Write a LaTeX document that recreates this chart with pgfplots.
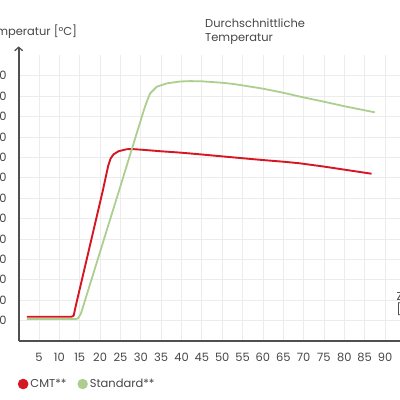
\documentclass[border=0pt]{standalone}
\usepackage{pgfplots}
\pgfplotsset{compat=1.18}
\usepackage{fontspec}
\setmainfont{Poppins}
\usetikzlibrary{arrows.meta}
\definecolor{cmtred}{RGB}{214,22,34}
\definecolor{stdgreen}{RGB}{172,206,142}
\definecolor{gridgray}{RGB}{236,236,236}
\definecolor{axgray}{RGB}{80,80,80}
\definecolor{txtgray}{RGB}{70,70,70}
\begin{document}
\begin{tikzpicture}
\useasboundingbox (0bp,0bp) rectangle (400bp,400bp);
\begin{axis}[
  at={(18.7bp,59bp)}, anchor=south west,
  x=4.07bp, y=0.204bp,
  xmin=0, xmax=96, ymin=0, ymax=1400,
  axis lines=left,
  axis line style={draw=axgray, line width=1.7bp, -{Straight Barb[length=3.5bp,width=8bp,line width=1.3bp]}, shorten >=-9bp},
  xtick={5,10,...,90}, ytick={100,200,...,1300},
  extra x ticks={95}, extra x tick labels={},
  grid=major,
  major grid style={draw=gridgray, line width=0.8bp},
  major tick length=0pt,
  ticklabel style={font=\fontsize{11.5}{13}\selectfont, text=txtgray},
  /pgf/number format/assume math mode=true,
  /pgf/number format/1000 sep={},
  xticklabel style={yshift=-8.5bp},
  yticklabel style={xshift=-8.5bp},
  every axis y label/.style={at={(axis description cs:0,1)}, anchor=east, inner sep=0pt, xshift=58.5bp, yshift=23.5bp, font=\fontsize{11.5}{13}\selectfont, text=txtgray},
  ylabel={Temperatur [°C]},
  title style={at={(axis description cs:0.4767,1)}, anchor=west, inner sep=0pt, yshift=17.4bp, align=left, font=\fontsize{11.5}{14}\selectfont, text=txtgray},
  title={Durchschnittliche\\Temperatur},
  legend style={at={(axis description cs:-0.002,-0.1506)}, anchor=west, draw=none, fill=none, inner sep=0pt, outer sep=0pt, legend columns=2, font=\fontsize{11.5}{13}\selectfont, text=txtgray, /tikz/every even column/.append style={column sep=9bp}},
  legend cell align=left,
  legend image code/.code={\fill[#1] (4bp,0bp) circle (4.3bp);},
]
\addplot[color=cmtred, line width=1.9bp, line join=round] coordinates {
(2,119) (13.0,119) (13.5,124) (14.0,170) (20.7,740) (22.0,860) (22.6,895)
(23.3,915) (24.5,930) (26.5,940) (27.8,941) (30,938) (35,930)
(40,923) (44.6,915) (50,905) (55,896) (60,887) (65,879) (69.1,871)
(75,855) (80,840) (86.7,820)
};
\addlegendentry{CMT**}
\addplot[color=stdgreen, line width=1.8bp, line join=round] coordinates {
(2,108) (14.0,108) (14.6,111) (15.3,135) (24.7,740) (30.8,1135) (31.5,1175)
(32.3,1214) (33.9,1246) (36.4,1263) (39.6,1272) (42.1,1274) (45,1273)
(50,1266) (52.7,1260) (55,1253) (60,1237) (65,1217) (69.1,1198)
(75,1173) (80,1151) (87.5,1121)
};
\addlegendentry{Standard**}
\end{axis}
\node[anchor=west, align=left, inner sep=0pt, font=\fontsize{11.5}{13}\selectfont, text=txtgray] at (396.5bp,96bp) {Zeit\\{[s]}};
\end{tikzpicture}
\end{document}
